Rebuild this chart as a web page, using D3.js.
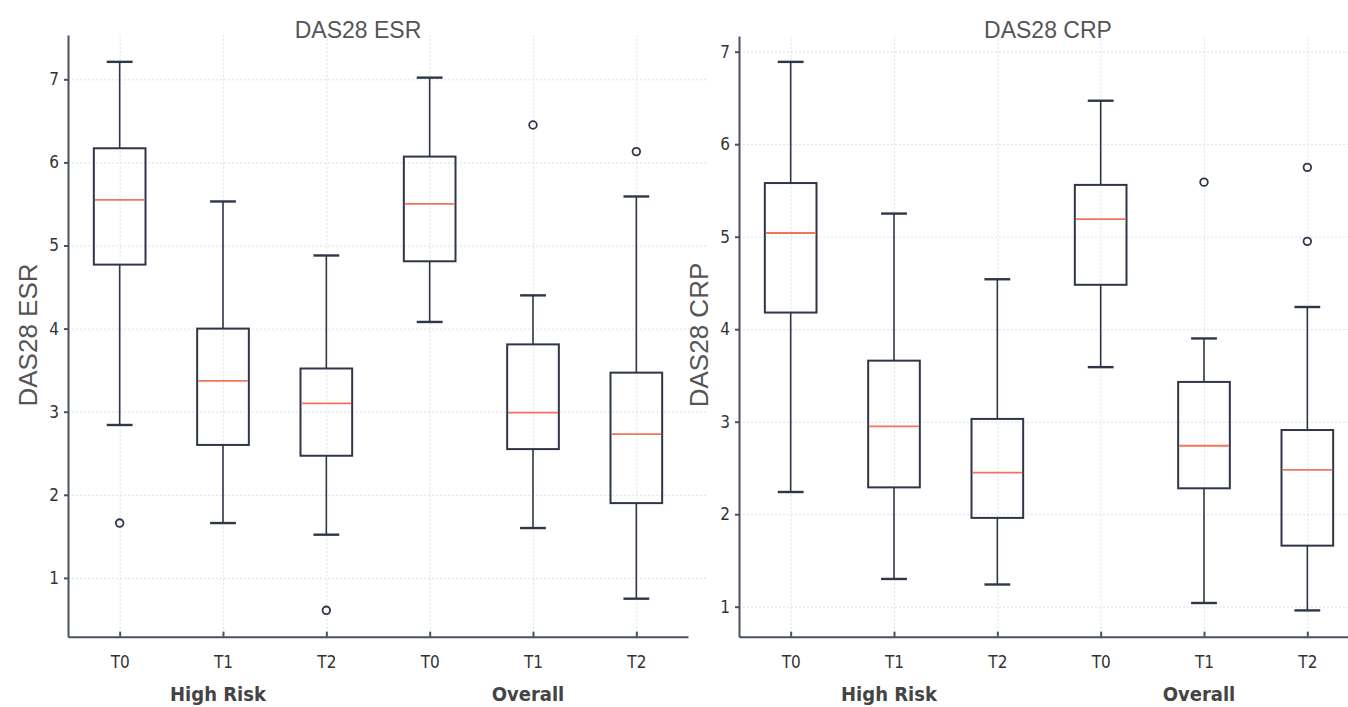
<!DOCTYPE html>
<meta charset="utf-8">
<style>
    body { margin: 0; background: #fff; }
    .grid line { stroke: #dde1ea; stroke-dasharray: 2,2; stroke-width: 1; }
    .grid path { display: none; }
    .axis path, .axis line { stroke: #4a5163; stroke-width: 2px; }
    .axis text { font-family: "DejaVu Sans Condensed", "Liberation Sans Narrow", Roboto, sans-serif; font-size: 17px; fill: #333; }
    .box { fill: none; stroke: #2f3648; stroke-width: 2px; }
    .whisker { stroke: #2f3648; stroke-width: 1.6px; }
    .cap { stroke: #2f3648; stroke-width: 2.4px; }
    .median { stroke: #f2745a; stroke-width: 1.8px; }
    .outlier { fill: none; stroke: #2f3648; stroke-width: 1.8px; }
    .title { font-family: "Liberation Sans", Arial, sans-serif; font-size: 23px; fill: #555; }
    .ylabel { font-family: "Liberation Sans", Arial, sans-serif; font-size: 26px; fill: #555; }
    .group { font-family: "DejaVu Sans Condensed", Roboto, sans-serif; font-weight: bold; font-size: 20px; fill: #444; }
</style>
<body>
<script src="https://d3js.org/d3.v7.min.js"></script>
<script>

// categories along the x axis
var categories = ["T0", "T1", "T2", "T0", "T1", "T2"];
var groups = ["High Risk", "Overall"];
var yTicks = [1, 2, 3, 4, 5, 6, 7];

// DAS28 ESR box statistics
var esrLow    = [2.84, 1.66, 1.52, 4.08, 1.60, 0.75];
var esrQ1     = [4.77, 2.60, 2.47, 4.81, 2.55, 1.90];
var esrMedian = [5.55, 3.37, 3.10, 5.50, 2.99, 2.73];
var esrQ3     = [6.17, 4.00, 3.52, 6.07, 3.81, 3.47];
var esrHigh   = [7.21, 5.53, 4.88, 7.02, 4.40, 5.59];
var esrOutliers = [[1.66], [], [0.61], [], [6.45], [6.13]];

// DAS28 CRP box statistics
var crpLow    = [2.24, 1.30, 1.24, 3.59, 1.04, 0.96];
var crpQ1     = [4.18, 2.29, 1.96, 4.48, 2.28, 1.66];
var crpMedian = [5.04, 2.95, 2.45, 5.19, 2.74, 2.48];
var crpQ3     = [5.58, 3.66, 3.03, 5.56, 3.43, 2.91];
var crpHigh   = [6.89, 5.25, 4.54, 6.47, 3.90, 4.24];
var crpOutliers = [[], [], [], [], [5.59], [5.75, 4.95]];

var svg = d3.select("body").append("svg")
    .attr("width", 1348)
    .attr("height", 707);

function drawPanel(opt) {
    var g = svg.append("g").attr("transform", "translate(" + opt.left + ",0)");

    var x = d3.scaleLinear().domain([0.5, 6.5]).range([0, 620]);
    var y = d3.scaleLinear().domain(opt.yDomain).range([636.7, opt.top]);

    // gridlines
    g.append("g")
        .attr("class", "grid")
        .call(d3.axisLeft(y).tickValues(yTicks).tickSize(-640).tickFormat(""));
    g.append("g")
        .attr("class", "grid")
        .attr("transform", "translate(0,636.7)")
        .call(d3.axisBottom(x).tickValues(d3.range(1, 7)).tickSize(-(636.7 - opt.top)).tickFormat(""));

    // axes
    g.append("g")
        .attr("class", "axis")
        .call(d3.axisLeft(y).tickValues(yTicks).tickSize(4).tickSizeOuter(0).tickPadding(5)
            .tickFormat(d3.format("d")));
    g.append("g")
        .attr("class", "axis")
        .attr("transform", "translate(0,636.7)")
        .call(d3.axisBottom(x).tickValues(d3.range(1, 7)).tickSize(-5).tickSizeOuter(0).tickPadding(19)
            .tickFormat(function(d) { return categories[d - 1]; }));

    var rows = categories.map(function(c, i) {
        return { i: i + 1, low: opt.low[i], q1: opt.q1[i], med: opt.median[i],
                 q3: opt.q3[i], high: opt.high[i], out: opt.outliers[i] };
    });

    var bw = x(1.25) - x(1);
    var cw = x(1.125) - x(1);

    var b = g.selectAll(".bp").data(rows).enter().append("g").attr("class", "bp");
    b.append("line").attr("class", "whisker")
        .attr("x1", function(d) { return x(d.i); }).attr("x2", function(d) { return x(d.i); })
        .attr("y1", function(d) { return y(d.q3); }).attr("y2", function(d) { return y(d.high); });
    b.append("line").attr("class", "whisker")
        .attr("x1", function(d) { return x(d.i); }).attr("x2", function(d) { return x(d.i); })
        .attr("y1", function(d) { return y(d.q1); }).attr("y2", function(d) { return y(d.low); });
    b.append("line").attr("class", "cap")
        .attr("x1", function(d) { return x(d.i) - cw; }).attr("x2", function(d) { return x(d.i) + cw; })
        .attr("y1", function(d) { return y(d.high); }).attr("y2", function(d) { return y(d.high); });
    b.append("line").attr("class", "cap")
        .attr("x1", function(d) { return x(d.i) - cw; }).attr("x2", function(d) { return x(d.i) + cw; })
        .attr("y1", function(d) { return y(d.low); }).attr("y2", function(d) { return y(d.low); });
    b.append("rect").attr("class", "box")
        .attr("x", function(d) { return x(d.i) - bw; })
        .attr("width", 2 * bw)
        .attr("y", function(d) { return y(d.q3); })
        .attr("height", function(d) { return y(d.q1) - y(d.q3); })
        .attr("fill", "#fff");
    b.append("line").attr("class", "median")
        .attr("x1", function(d) { return x(d.i) - bw + 1; }).attr("x2", function(d) { return x(d.i) + bw - 1; })
        .attr("y1", function(d) { return y(d.med); }).attr("y2", function(d) { return y(d.med); });
    b.selectAll(".outlier").data(function(d) { return d.out.map(function(v) { return { i: d.i, v: v }; }); })
        .enter().append("circle").attr("class", "outlier")
        .attr("cx", function(d) { return x(d.i); })
        .attr("cy", function(d) { return y(d.v); })
        .attr("r", 3.8);

    // titles
    g.append("text").attr("class", "title")
        .attr("x", opt.titleX).attr("y", 38)
        .attr("text-anchor", "middle").text(opt.title);
    g.append("text").attr("class", "ylabel")
        .attr("transform", "translate(" + opt.ylabelX + ",335) rotate(-90)")
        .attr("text-anchor", "middle").text(opt.title);

    // group labels
    g.selectAll(".group").data(groups).enter().append("text")
        .attr("class", "group")
        .attr("x", function(d, i) { return x(2 + 3 * i) - 5; })
        .attr("y", 701)
        .attr("text-anchor", "middle")
        .text(function(d) { return d; });
}

drawPanel({ left: 68, top: 35, yDomain: [(661 - 636.7) / 83.1, (661 - 35) / 83.1],
    title: "DAS28 ESR", titleX: 290, ylabelX: -31,
    low: esrLow, q1: esrQ1, median: esrMedian, q3: esrQ3, high: esrHigh, outliers: esrOutliers });

drawPanel({ left: 739, top: 36, yDomain: [(699.2 - 636.7) / 92.5, (699.2 - 36) / 92.5],
    title: "DAS28 CRP", titleX: 309, ylabelX: -31,
    low: crpLow, q1: crpQ1, median: crpMedian, q3: crpQ3, high: crpHigh, outliers: crpOutliers });

</script>
</body>
